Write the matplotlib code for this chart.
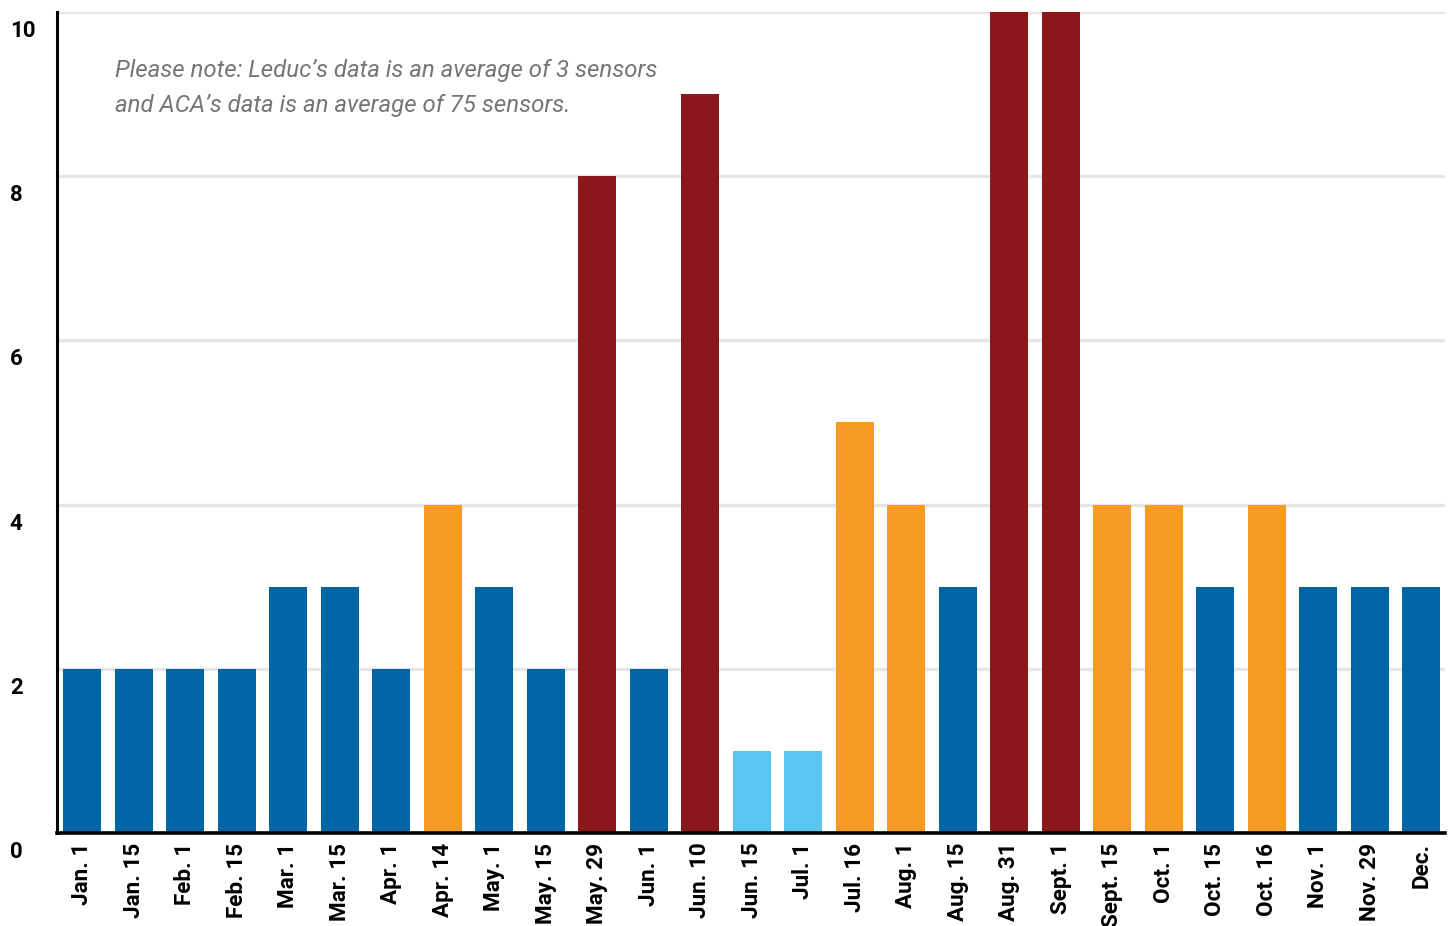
import matplotlib
matplotlib.use("Agg")
import matplotlib.pyplot as plt
from matplotlib.transforms import ScaledTranslation

categories = ["Jan. 1", "Jan. 15", "Feb. 1", "Feb. 15", "Mar. 1", "Mar. 15", "Apr. 1",
              "Apr. 14", "May. 1", "May. 15", "May. 29", "Jun. 1", "Jun. 10", "Jun. 15",
              "Jul. 1", "Jul. 16", "Aug. 1", "Aug. 15", "Aug. 31", "Sept. 1", "Sept. 15",
              "Oct. 1", "Oct. 15", "Oct. 16", "Nov. 1", "Nov. 29", "Dec."]
values = [2, 2, 2, 2, 3, 3, 2, 4, 3, 2, 8, 2, 9, 1, 1, 5, 4, 3, 10, 10, 4, 4, 3, 4, 3, 3, 3]
levels = ["mid", "mid", "mid", "mid", "mid", "mid", "mid", "mod", "mid", "mid", "high", "mid",
          "high", "low", "low", "mod", "mod", "mid", "high", "high", "mod", "mod", "mid", "mod",
          "mid", "mid", "mid"]
level_colors = {"low": "#5BC5F2", "mid": "#0065A4", "mod": "#F79B23", "high": "#8B171B"}
yticks = [0, 2, 4, 6, 8, 10]
note = "Please note: Leduc\u2019s data is an average of 3 sensors\nand ACA\u2019s data is an average of 75 sensors."

fig = plt.figure(figsize=(14.49, 9.26), dpi=100)
ax = fig.add_axes([57 / 1449, 1 - 833 / 926, (1445 - 57) / 1449, (833 - 12) / 926])

x = list(range(len(categories)))
ax.bar(x, values, width=0.74, color=[level_colors[l] for l in levels], zorder=2)

ax.set_xlim(-0.49, 26.46)
ax.set_ylim(0, 10)
ax.set_yticks(yticks)
ax.set_yticklabels([str(t) for t in yticks], fontsize=16, fontweight="bold",
                   family=["Roboto", "DejaVu Sans"], ha="left")
ax.tick_params(axis="y", length=0, pad=34)
for lab in ax.get_yticklabels():
    lab.set_transform(lab.get_transform() + ScaledTranslation(0, -0.165, fig.dpi_scale_trans))

ax.set_xticks(x)
ax.set_xticklabels(categories, rotation=90, fontsize=16.2, fontweight="bold",
                   family=["Roboto", "DejaVu Sans"], va="top", ha="center")
ax.tick_params(axis="x", length=0, pad=7)

ax.grid(axis="y", color="#e6e6e6", linewidth=2.5, zorder=0)
ax.set_axisbelow(True)
for s in ["top", "right"]:
    ax.spines[s].set_visible(False)
ax.spines["left"].set_color("black")
ax.spines["left"].set_linewidth(2.2)
ax.spines["bottom"].set_color("black")
ax.spines["bottom"].set_linewidth(2.6)
ax.spines["bottom"].set_zorder(3)

ax.text(115 / 1449, 1 - 88 / 926, note, transform=fig.transFigure, fontsize=17.3,
        style="italic", color="#757575", family=["Roboto", "DejaVu Sans"],
        va="center", ha="left", linespacing=1.62)
fig.savefig("out.png", dpi=100)
